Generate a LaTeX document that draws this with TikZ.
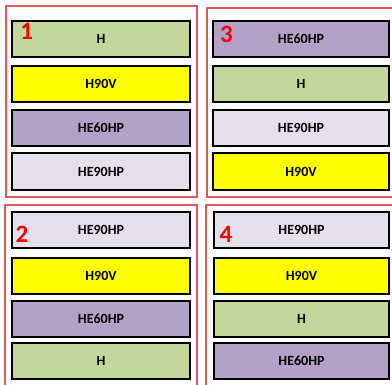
\documentclass[tikz,border=0pt]{standalone}
\usepackage{fontspec}
\setmainfont{Carlito}
\definecolor{grn}{HTML}{C3D69B}
\definecolor{ylw}{HTML}{FFFF00}
\definecolor{pur}{HTML}{B3A2C7}
\definecolor{lav}{HTML}{E6E0EC}
\definecolor{frame}{RGB}{226,88,88}
\begin{document}
\begin{tikzpicture}[x=1pt,y=-1pt,
  panel/.style={draw=frame,line width=2pt,fill=white},
  bar/.style={draw=black,line width=2pt,rectangle,inner sep=0pt,
    font=\fontsize{14}{15}\selectfont\bfseries},
  barL/.style={bar,minimum width=178pt,minimum height=36.5pt},
  fg/.style={fill=grn},fy/.style={fill=ylw},fp/.style={fill=pur},fl/.style={fill=lav},
  num/.style={text=red,inner sep=0pt,anchor=base,font=\fontsize{25}{26}\selectfont\bfseries}]
\clip (0,0) rectangle (392,384);
\fill[white] (0,0) rectangle (392,384);
% panels
\draw[panel] (6,6) rectangle (197,197);
\draw[panel] (207,8) rectangle (400,197);
\draw[panel] (5,205) rectangle (197,400);
\draw[panel] (206,205) rectangle (400,400);
% panel 1
\node[barL,fg] (a1) at (101,39) {H};
\node[barL,fy] (a2) at (101,84) {H90V};
\node[barL,fp] (a3) at (101,128) {HE60HP};
\node[barL,fl] (a4) at (101,171.5) {HE90HP};
% panel 3
\node[barL,fp,minimum width=176pt] (c1) at (301,39) {HE60HP};
\node[barL,fg,minimum width=176pt] (c2) at (301,84) {H};
\node[barL,fl,minimum width=176pt] (c3) at (301,128) {HE90HP};
\node[barL,fy,minimum width=176pt] (c4) at (301,171.5) {H90V};
% panel 2
\node[barL,fl] (b1) at (101,230) {HE90HP};
\node[barL,fy] (b2) at (101,276) {H90V};
\node[barL,fp] (b3) at (101,319) {HE60HP};
\node[barL,fg] (b4) at (101,361) {H};
% panel 4
\node[barL,fl,minimum width=175pt] (d1) at (301.5,230) {HE90HP};
\node[barL,fy,minimum width=175pt] (d2) at (301.5,276) {H90V};
\node[barL,fg,minimum width=175pt] (d3) at (301.5,319) {H};
\node[barL,fp,minimum width=175pt] (d4) at (301.5,361) {HE60HP};
% numbers
\node[num] (n1) at (26.7,39.5) {1};
\node[num] (n3) at (226.5,42) {3};
\node[num] (n2) at (22,242) {2};
\node[num] (n4) at (226,242) {4};
\end{tikzpicture}
\end{document}
